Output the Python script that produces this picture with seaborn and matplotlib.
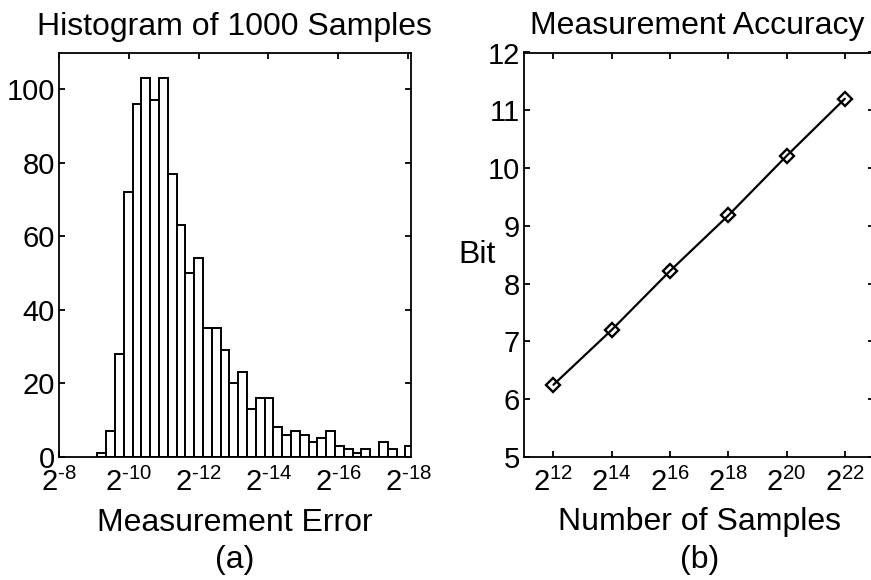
import matplotlib
matplotlib.use("Agg")
import matplotlib.pyplot as plt
import seaborn as sns
import pandas as pd

# ---------------- data ----------------
# (a) histogram of 1000 samples; x is the (negative) log2 exponent of the error
hist_bin_start = 9.10
hist_bin_width = 0.252
hist_counts = [1, 7, 28, 72, 96, 103, 97, 103, 77, 63, 50, 54, 35, 35, 29, 20,
               23, 13, 16, 16, 8, 6, 7, 6, 4, 5, 7, 3, 2, 1, 2, 0, 4, 2, 0, 3]
hist_xticks = [8, 10, 12, 14, 16, 18]
hist_xticklabels = ["$2^{\u20108}$", "$2^{\u201010}$", "$2^{\u201012}$",
                    "$2^{\u201014}$", "$2^{\u201016}$", "$2^{\u201018}$"]
hist_yticks = [0, 20, 40, 60, 80, 100]

# (b) measurement accuracy
samples_exp = [12, 14, 16, 18, 20, 22]
bits = [6.25, 7.2, 8.22, 9.18, 10.21, 11.2]
acc_xticklabels = [r"$2^{12}$", r"$2^{14}$", r"$2^{16}$", r"$2^{18}$", r"$2^{20}$", r"$2^{22}$"]
acc_yticks = [5, 6, 7, 8, 9, 10, 11, 12]

# ---------------- style ----------------
sns.set_theme(style="white")
main_font = "Liberation Sans"
plt.rcParams["font.family"] = [main_font, "DejaVu Sans"]
plt.rcParams["mathtext.fontset"] = "custom"
plt.rcParams["mathtext.rm"] = main_font
plt.rcParams["mathtext.it"] = main_font
plt.rcParams["mathtext.bf"] = main_font
for k in ["text.color", "axes.labelcolor", "xtick.color", "ytick.color"]:
    plt.rcParams[k] = "black"

TICK_FS = 21
LABEL_FS = 23

W, H = 871, 580
fig = plt.figure(figsize=(W / 100, H / 100), dpi=100)
fig.patch.set_facecolor("white")


def px_axes(l, t, r, b):
    return fig.add_axes([l / W, 1 - b / H, (r - l) / W, (b - t) / H])


def style_axes(ax):
    for s in ax.spines.values():
        s.set_visible(True)
        s.set_color("black")
        s.set_linewidth(1.3)
    ax.tick_params(direction="in", length=4, width=1.3, top=True, right=True,
                   bottom=True, left=True, labelsize=TICK_FS, colors="black")
    ax.tick_params(axis="x", pad=8)
    ax.tick_params(axis="y", pad=3)
    ax.set_facecolor("white")


# ---------------- (a) histogram ----------------
A_L, A_T, A_R, A_B = 59, 52.7, 410.6, 456.7
ax1 = px_axes(A_L, A_T, A_R, A_B)
edges = [hist_bin_start + hist_bin_width * k for k in range(len(hist_counts) + 1)]
centers = [(edges[k] + edges[k + 1]) / 2 for k in range(len(hist_counts))]
hist_df = pd.DataFrame({"exp": centers, "count": hist_counts})
sns.histplot(data=hist_df, x="exp", weights="count", bins=edges, ax=ax1,
             color="white", edgecolor="black", linewidth=1.4, alpha=1.0)
ax1.set_xlim(8, 18.07)
ax1.set_ylim(0, 110)
ax1.set_xticks(hist_xticks)
ax1.set_xticklabels(hist_xticklabels)
ax1.set_yticks(hist_yticks)
ax1.set_ylabel("")
style_axes(ax1)
ax1.set_xlabel("Measurement Error", fontsize=LABEL_FS)
ax1.xaxis.set_label_coords(0.5, (A_B - 531) / (A_B - A_T))
ax1.xaxis.label.set_va("baseline")
fig.text((A_L + A_R) / 2 / W, 1 - 35 / H, "Histogram of 1000 Samples",
         ha="center", va="baseline", fontsize=LABEL_FS)
fig.text((A_L + A_R) / 2 / W, 1 - 560 / H, "(a)", ha="center", va="center", fontsize=LABEL_FS)

# ---------------- (b) accuracy ----------------
B_L, B_T, B_R, B_B = 524.3, 52.5, 874, 457
ax2 = px_axes(B_L, B_T, B_R, B_B)
acc_df = pd.DataFrame({"exp": samples_exp, "bit": bits})
sns.lineplot(data=acc_df, x="exp", y="bit", ax=ax2, color="black", linewidth=1.6,
             marker="D", markersize=7.6, markerfacecolor="none",
             markeredgecolor="black", markeredgewidth=1.7)
ax2.set_xlim(11, 23)
ax2.set_ylim(5, 12)
ax2.set_xticks(samples_exp)
ax2.set_xticklabels(acc_xticklabels)
ax2.set_yticks(acc_yticks)
style_axes(ax2)
ax2.set_xlabel("Number of Samples", fontsize=LABEL_FS)
ax2.xaxis.set_label_coords(0.5, (B_B - 530) / (B_B - B_T))
ax2.xaxis.label.set_va("baseline")
ax2.set_ylabel("Bit", fontsize=LABEL_FS, rotation=0)
ax2.yaxis.set_label_coords((477 - B_L) / (B_R - B_L), 0.5)
ax2.yaxis.label.set_va("center")
ax2.yaxis.label.set_ha("center")
fig.text(697 / W, 1 - 34 / H, "Measurement Accuracy",
         ha="center", va="baseline", fontsize=LABEL_FS)
fig.text((B_L + B_R) / 2 / W, 1 - 560 / H, "(b)", ha="center", va="center", fontsize=LABEL_FS)

fig.savefig("out.png", dpi=100, facecolor="white")
